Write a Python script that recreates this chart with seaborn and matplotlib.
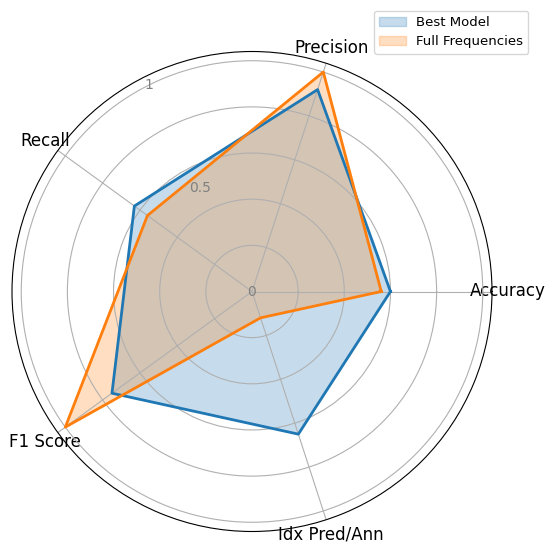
import numpy as np
import seaborn as sns
import matplotlib
matplotlib.use("Agg")
import matplotlib.pyplot as plt

# metrics on each spoke
categories = ["Accuracy", "Precision", "Recall", "F1 Score", "Idx Pred/Ann"]
best_model = [0.60, 0.92, 0.63, 0.75, 0.65]
full_freq = [0.56, 1.00, 0.56, 1.00, 0.12]
series_names = ["Best Model", "Full Frequencies"]
r_ticks = [0, 0.5, 1]
r_tick_labels = ["0", "0.5", "1"]

colors = sns.color_palette("tab10", 2)

angles = np.linspace(0, 2 * np.pi, len(categories), endpoint=False)
angles_closed = np.concatenate([angles, angles[:1]])

fig = plt.figure(figsize=(5.45, 5.43), dpi=100)
ax = fig.add_axes([12 / 545, 11 / 543, 480 / 545, 481 / 543], polar=True)

for vals, name, c in zip([best_model, full_freq], series_names, colors):
    v = np.concatenate([vals, vals[:1]])
    ax.plot(angles_closed, v, color=c, linewidth=2)
    ax.fill(angles_closed, v, color=c, alpha=0.25, label=name)

ax.set_ylim(0, 1.04)
ax.set_xticks(angles)
ax.set_xticklabels(categories, fontsize=12, color="black")
ax.tick_params(axis="x", pad=1)

# grid circles every 0.2, labels only at 0 / 0.5 / 1
ax.set_yticks([0.2, 0.4, 0.6, 0.8, 1.0])
ax.set_yticklabels([])
ax.yaxis.grid(True, color="#b0b0b0", linewidth=0.8)
ax.xaxis.grid(True, color="#b0b0b0", linewidth=0.8)
label_theta = np.deg2rad(116.5)
for r, lab in zip(r_ticks, r_tick_labels):
    ax.text(label_theta, r, lab, ha="center", va="center", fontsize=10, color="grey")
ax.spines["polar"].set_color("black")

fig.legend(loc="upper right", bbox_to_anchor=(535 / 545, 1 - 4 / 543), fontsize=9.5)

fig.savefig("out.png", dpi=100)
